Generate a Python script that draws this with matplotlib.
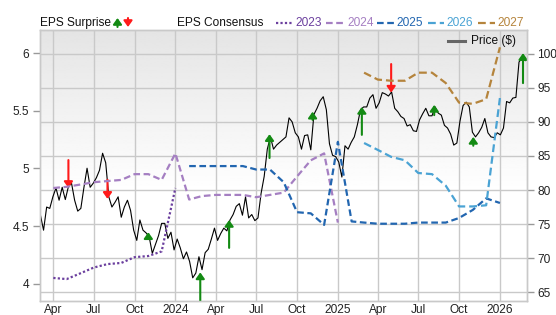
"""
Price history with EPS consensus lines per fiscal year and EPS surprise arrows.
"""
import numpy as np
import pandas as pd
import matplotlib
matplotlib.use('Agg')
from matplotlib import pyplot as plt
from matplotlib.lines import Line2D
import matplotlib.dates as mdates
from matplotlib.ticker import FuncFormatter, FixedLocator

plt.rcParams['font.family'] = ['Liberation Sans', 'DejaVu Sans']

# weekly price ($), first week starting 2023-03-03
price_start = '2023-03-03'
price = [
    76.3, 74.1, 77.5, 77.3, 79.0, 80.3, 78.5, 80.4, 78.6, 80.5,
    81.0, 78.5, 76.9, 77.3, 80.4, 83.2, 80.4, 81.0, 81.8, 82.9,
    85.4, 84.0, 79.0, 77.5, 78.2, 79.0, 76.0, 77.5, 78.5, 77.0,
    74.1, 72.6, 75.6, 74.1, 73.7, 73.1, 70.7, 72.0, 73.3, 75.1,
    75.1, 72.9, 73.8, 71.2, 72.8, 71.5, 69.9, 70.9, 69.5, 67.1,
    67.8, 70.2, 68.3, 70.8, 71.3, 72.8, 74.4, 72.6, 73.6, 74.4,
    74.0, 75.6, 76.4, 77.6, 78.0, 76.3, 79.0, 75.9, 76.4, 75.5,
    75.9, 79.5, 82.0, 86.0, 87.8, 86.0, 86.6, 87.0, 87.4, 87.8,
    90.6, 90.0, 88.4, 87.8, 86.0, 88.0, 88.1, 85.9, 91.1, 92.0,
    93.1, 93.7, 91.8, 86.8, 85.1, 84.9, 84.1, 81.9, 86.5, 86.0,
    87.0, 87.8, 89.6, 91.8, 92.2, 92.2, 93.5, 94.0, 92.0, 92.8,
    94.3, 94.1, 93.8, 94.4, 92.0, 91.5, 90.8, 90.5, 89.4, 89.6,
    88.7, 88.6, 90.3, 91.2, 92.0, 90.9, 90.9, 92.2, 91.3, 91.0,
    89.5, 89.1, 88.2, 86.6, 86.9, 90.1, 92.4, 92.9, 92.2, 88.5,
    87.8, 88.4, 89.2, 90.5, 88.4, 87.8, 87.7, 88.4, 88.1, 89.1,
    93.0, 92.8, 93.5, 93.6, 98.8, 99.4, 99.0,
]

# monthly EPS consensus per fiscal year (first month, values)
eps_years = ['2023', '2024', '2025', '2026', '2027']
eps_start = ['2023-04-01', '2023-04-01', '2024-02-01', '2025-03-01', '2025-03-01']
eps_2023 = [4.05, 4.04, 4.09, 4.14, 4.17, 4.18, 4.23, 4.24, 4.28, 4.83]
eps_2024 = [4.83, 4.84, 4.86, 4.88, 4.89, 4.90, 4.95, 4.95, 4.90,
            5.13, 4.73, 4.76, 4.77, 4.77, 4.77, 4.75, 4.77, 4.79, 4.93, 5.07, 5.13,
            4.53]
eps_2025 = [5.02, 5.02, 5.02, 5.02, 5.02, 4.99, 4.99, 4.88, 4.62, 4.61, 4.51,
            5.23, 4.54, 4.53, 4.52, 4.52, 4.52, 4.53, 4.53, 4.53, 4.57, 4.64, 4.74,
            4.70]
eps_2026 = [5.22, 5.16, 5.10, 5.07, 4.96, 4.95, 4.85, 4.67, 4.67, 4.68, 5.61]
eps_2027 = [5.83, 5.77, 5.76, 5.76, 5.83, 5.83, 5.74, 5.57, 5.56, 5.60, 6.05]
eps_values = [eps_2023, eps_2024, eps_2025, eps_2026, eps_2027]
eps_colors = ['#6b3f9e', '#a57fc2', '#2266b0', '#4aa3d4', '#b5843c']
eps_styles = [(0, (1, 1)), (0, (3, 1.6)), (0, (3, 1.6)), (0, (3.5, 1.8)), (0, (3.5, 1.8))]

# EPS surprise arrows, drawn on the price scale (tail -> tip)
surprise_dates = ['2023-05-05', '2023-08-01', '2023-11-01', '2024-02-26',
                  '2024-05-01', '2024-07-31', '2024-11-05', '2025-02-24',
                  '2025-05-01', '2025-08-06', '2025-11-02', '2026-02-22']
surprise_tail = [84.4, 81.5, 72.9, 63.7, 71.5, 84.7, 90.3, 88.1, 98.5, 91.0, 86.5, 95.7]
surprise_tip = [80.3, 78.7, 73.8, 67.9, 75.6, 88.2, 91.5, 92.2, 94.3, 92.5, 87.8, 100.1]

GREEN = '#138a13'
RED = '#ff1a1a'
GRID = '#c9c9c9'
W, H = 556, 315


def arrow(ax, x, tail, tip, color, coords='data', scale=8):
    ax.annotate(
        '', xy=(x, tip), xytext=(x, tail),
        xycoords=coords, textcoords=coords, annotation_clip=False,
        arrowprops=dict(arrowstyle='-|>,head_length=0.45,head_width=0.32',
                        color=color, lw=1.5, shrinkA=0, shrinkB=0,
                        mutation_scale=scale),
        zorder=6,
    )


def quarter_label(x, pos):
    d = mdates.num2date(x)
    return str(d.year) if d.month == 1 else d.strftime('%b')


fig = plt.figure(figsize=(W / 100, H / 100), dpi=100)
ax = fig.add_axes([40 / W, 1 - 301 / H, 487 / W, 271 / H])
ax_eps = ax.twinx()

# background: light grey at the top fading to white
shade = np.clip(0.895 + 0.105 * np.linspace(0, 1, 200) / 0.6, 0, 1)[:, None]
ax.imshow(shade, extent=[0, 1, 0, 1], transform=ax.transAxes, aspect='auto',
          cmap='gray', vmin=0, vmax=1, zorder=0, interpolation='bilinear')

# price
dates = pd.date_range(price_start, periods=len(price), freq='7D')
ax.plot(dates, price, color='black', lw=0.8, zorder=3)

for d, tail, tip in zip(surprise_dates, surprise_tail, surprise_tip):
    arrow(ax, pd.Timestamp(d), tail, tip, GREEN if tip > tail else RED)

# eps consensus
for vals, start, color, style in zip(eps_values, eps_start, eps_colors, eps_styles):
    months = pd.date_range(start, periods=len(vals), freq='MS')
    ax_eps.plot(months, vals, color=color, lw=1.6, linestyle=style, zorder=4)

# axes limits and ticks
ax.set_xlim(pd.Timestamp('2023-03-02'), pd.Timestamp('2026-03-03'))
ax.set_ylim(63.7, 103.5)
ax_eps.set_ylim(3.85, 6.2)

ax.xaxis.set_major_locator(mdates.MonthLocator(bymonth=[1, 4, 7, 10]))
ax.xaxis.set_major_formatter(FuncFormatter(quarter_label))
ax.yaxis.set_major_locator(FixedLocator([65, 70, 75, 80, 85, 90, 95, 100]))
ax_eps.yaxis.set_major_locator(FixedLocator([4, 4.5, 5, 5.5, 6]))
ax_eps.yaxis.set_major_formatter(FuncFormatter(lambda v, p: f'{v:g}'))

ax.yaxis.tick_right()
ax_eps.yaxis.tick_left()
ax.tick_params(axis='x', length=0, pad=2, labelsize=8.6, colors='#222222')
ax.tick_params(axis='y', length=5, width=1, pad=2.5, labelsize=8.6,
               color='#999999', labelcolor='#222222')
ax_eps.tick_params(axis='y', length=5, width=1, pad=3, labelsize=8.6,
                   color='#999999', labelcolor='#222222')

ax.grid(True, color=GRID, lw=1)
ax.set_axisbelow(True)
for a in (ax, ax_eps):
    for s in a.spines.values():
        s.set_color(GRID)
        s.set_linewidth(1)

# legend row on top
ty = 1 - 23 / H
fig.text(40 / W, ty, 'EPS Surprise', fontsize=8.6, va='center', color='#111111')
arrow(ax, 117.5, H - 27, H - 18, GREEN, coords='figure pixels', scale=8)
arrow(ax, 128, H - 18, H - 27, RED, coords='figure pixels', scale=8)
fig.text(177 / W, ty, 'EPS Consensus', fontsize=8.6, va='center', color='#111111')

sample_x = [(276, 293), (326, 345), (377, 394), (428, 444), (478, 495)]
for year, color, style, (x0, x1) in zip(eps_years, eps_colors, eps_styles, sample_x):
    fig.add_artist(Line2D([x0 / W, x1 / W], [ty, ty], transform=fig.transFigure,
                          color=color, lw=1.6, linestyle=style))
    fig.text((x1 + 2.5) / W, ty, year, fontsize=8.6, va='center', color=color)

# price legend inside the plot
py = 1 - 41 / H
fig.add_artist(Line2D([448 / W, 465 / W], [py, py], transform=fig.transFigure,
                      color='#666666', lw=2.2))
fig.text(471 / W, py, 'Price ($)', fontsize=8.6, va='center', color='#111111')

fig.savefig('out.png', dpi=100)
